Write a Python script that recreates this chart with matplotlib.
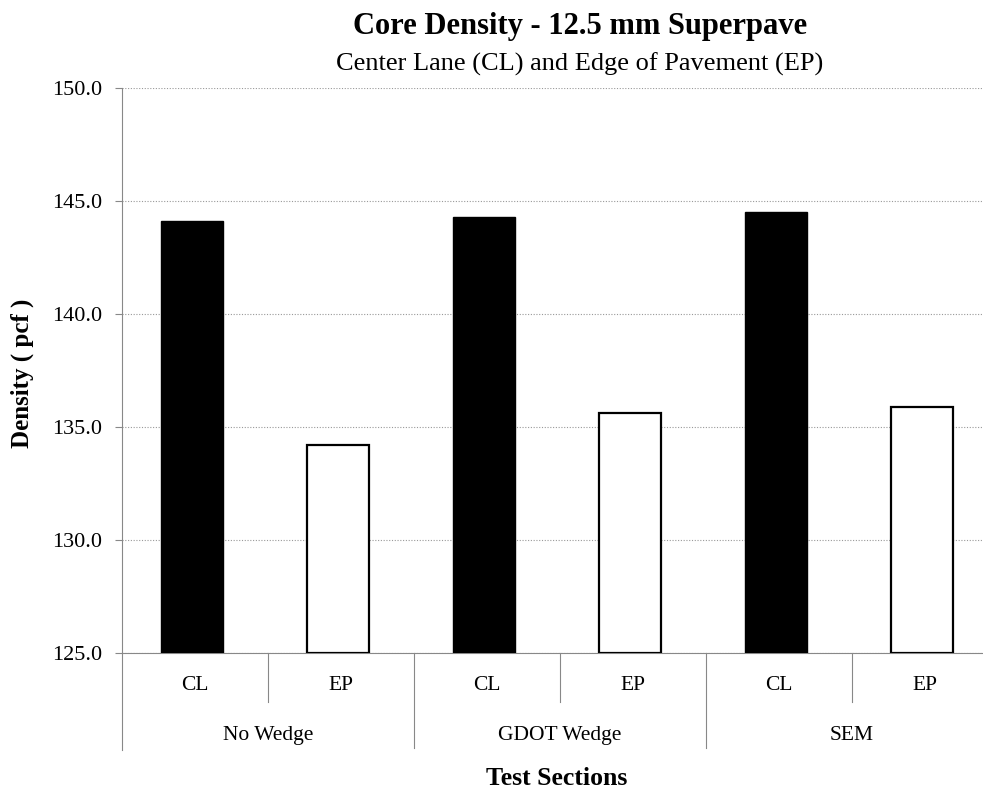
import matplotlib
matplotlib.use("Agg")
import matplotlib.pyplot as plt
import matplotlib.transforms as mtransforms

groups = ["No Wedge", "GDOT Wedge", "SEM"]
subcats = ["CL", "EP"]
cl_values = [144.1, 144.3, 144.5]
ep_values = [134.2, 135.6, 135.9]
yticks = [125.0, 130.0, 135.0, 140.0, 145.0, 150.0]

plt.rcParams['font.family'] = ['Liberation Serif', 'DejaVu Serif']

W, H = 983, 794
fig = plt.figure(figsize=(W / 100, H / 100), dpi=100)
ax_left, ax_right, ax_top, ax_bot = 122, 998, 88, 653
ax = fig.add_axes([ax_left / W, 1 - ax_bot / H, (ax_right - ax_left) / W, (ax_bot - ax_top) / H])

ymin, ymax = 125.0, 150.0
bw = 0.42
for i, (c, e) in enumerate(zip(cl_values, ep_values)):
    ax.bar(2 * i - 0.02, c - ymin, bottom=ymin, width=bw, color='black', edgecolor='black', linewidth=1.0, zorder=3)
    ax.bar(2 * i + 1 - 0.02, e - ymin, bottom=ymin, width=bw, color='white', edgecolor='black', linewidth=1.6, zorder=3)

ax.set_xlim(-0.5, 5.5)
ax.set_ylim(ymin, ymax)
ax.set_yticks(yticks)
ax.set_yticklabels([f"{v:.1f}" for v in yticks], fontsize=16)
ax.tick_params(axis='y', length=5, color='#888888', pad=9)
ax.set_xticks([])
for v in yticks:
    ax.axhline(v, color='#999999', linestyle=(0, (1, 1.5)), linewidth=0.8, zorder=1)
for s in ['top', 'right']:
    ax.spines[s].set_visible(False)
ax.spines['left'].set_color('#888888')
ax.spines['bottom'].set_color('#888888')
ax.spines['left'].set_linewidth(0.8)
ax.spines['bottom'].set_linewidth(0.8)

# hierarchical category axis
axh = ax_bot - ax_top
trans = mtransforms.blended_transform_factory(ax.transData, ax.transAxes)
def ypx(px):
    return -px / axh

for i, g in enumerate(groups):
    for j, s in enumerate(subcats):
        ax.text(2 * i + j, ypx(37), s, transform=trans, ha='center', va='baseline', fontsize=15.5)
    ax.text(2 * i + 0.5, ypx(87), g, transform=trans, ha='center', va='baseline', fontsize=15.5)
    ax.plot([2 * i + 0.5, 2 * i + 0.5], [0, ypx(49)], transform=trans, color='#888888', lw=0.8, clip_on=False)
for k in [1.5, 3.5]:
    ax.plot([k, k], [0, ypx(95)], transform=trans, color='#888888', lw=0.8, clip_on=False)
ax.plot([-0.5, -0.5], [0, ypx(97)], transform=trans, color='#888888', lw=0.8, clip_on=False)

fig.text(580 / W, 1 - 34 / H, "Core Density - 12.5 mm Superpave", ha='center', va='baseline',
         fontsize=22, fontweight='bold')
fig.text(580 / W, 1 - 71 / H, "Center Lane (CL) and Edge of Pavement (EP)", ha='center', va='baseline',
         fontsize=19)
fig.text(22 / W, 1 - 373 / H, "Density ( pcf )", rotation=90, ha='center', va='center',
         fontsize=18, fontweight='bold')
fig.text(557 / W, 1 - 785 / H, "Test Sections", ha='center', va='baseline',
         fontsize=18.5, fontweight='bold')

fig.savefig("out.png", dpi=100)
